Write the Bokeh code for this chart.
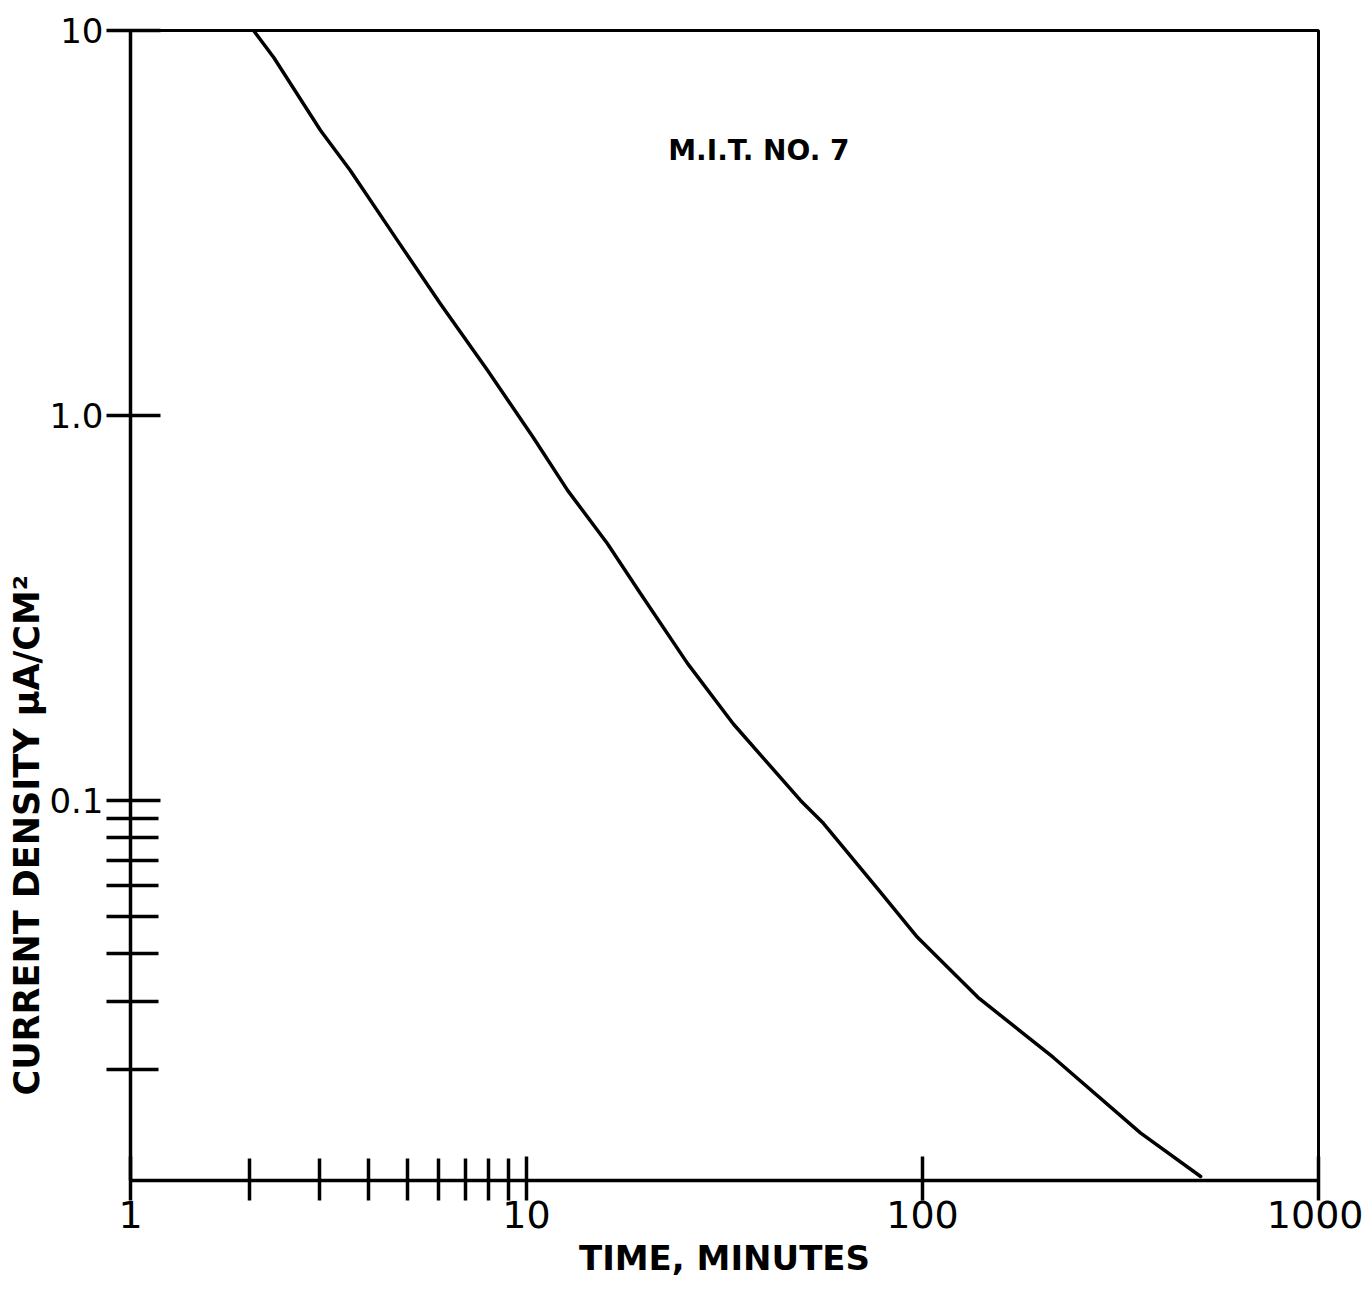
from bokeh.plotting import figure
from bokeh.models import FixedTicker, Label, ColumnDataSource, Title
from bokeh.embed import file_html
from bokeh.resources import INLINE

# ---- data ----
time_min = [2.045, 2.30, 3.02, 3.59, 4.72, 6.06, 7.97, 10.4, 12.7, 16.0, 19.4,
            25.5, 33.3, 49.2, 56.2, 76.9, 97.1, 138, 214, 355, 504]
current_density = [10.0, 8.51, 5.50, 4.33, 2.85, 1.95, 1.31, 0.877, 0.639, 0.465,
                   0.345, 0.227, 0.158, 0.100, 0.0872, 0.0591, 0.0441, 0.0308,
                   0.0215, 0.0137, 0.01055]

x_major = [1, 10, 100, 1000]
x_major_labels = ["1", "10", "100", "1000"]
x_minor = [2, 3, 4, 5, 6, 7, 8, 9]
y_major = [0.1, 1, 10]
y_major_labels = ["0.1", "1.0", "10"]
y_minor = [0.02, 0.03, 0.04, 0.05, 0.06, 0.07, 0.08, 0.09]

title_text = "M.I.T. NO. 7"
x_label = "TIME, MINUTES"
y_label = "CURRENT  DENSITY  \u03bcA/CM\u00b2"

FONT = "DejaVu Sans"

p = figure(x_axis_type="log", y_axis_type="log",
           x_range=(1, 1000), y_range=(0.0103, 10),
           frame_width=1188, frame_height=1150,
           min_border_left=130, min_border_top=30,
           min_border_right=45, min_border_bottom=105,
           output_backend="svg", toolbar_location=None)

p.xgrid.visible = False
p.ygrid.visible = False
p.outline_line_color = "black"
p.outline_line_width = 3
p.outline_line_alpha = 1.0

src = ColumnDataSource(dict(x=time_min, y=current_density))
p.line("x", "y", source=src, line_color="black", line_width=3.5,
       line_join="round", line_cap="round")

# x axis
xa = p.xaxis[0]
xa.ticker = FixedTicker(ticks=x_major, minor_ticks=x_minor)
xa.major_label_overrides = {v: s for v, s in zip(x_major, x_major_labels)}
xa.axis_line_width = 3.5
xa.major_tick_line_width = 3.5
xa.minor_tick_line_width = 3.5
xa.major_tick_in = 24
xa.major_tick_out = 20
xa.minor_tick_in = 22
xa.minor_tick_out = 20
xa.major_label_standoff = 0
xa.major_label_text_font = FONT
xa.major_label_text_font_size = "38px"
xa.major_label_text_color = "black"
xa.axis_label = x_label
xa.axis_label_text_font = FONT
xa.axis_label_text_font_size = "34px"
xa.axis_label_text_font_style = "bold"
xa.axis_label_text_color = "black"
xa.axis_label_standoff = 7

# y axis
ya = p.yaxis[0]
ya.ticker = FixedTicker(ticks=y_major, minor_ticks=y_minor)
ya.major_label_overrides = {v: s for v, s in zip(y_major, y_major_labels)}
ya.axis_line_width = 3.5
ya.major_tick_line_width = 3.5
ya.minor_tick_line_width = 3.5
ya.major_tick_in = 30
ya.major_tick_out = 24
ya.minor_tick_in = 28
ya.minor_tick_out = 24
ya.major_label_standoff = 3
ya.major_label_text_font = FONT
ya.major_label_text_font_size = "34px"
ya.major_label_text_color = "black"

# vertical axis title, placed low on the axis like the original lettering
p.add_layout(Title(text=y_label, align="left", offset=85, standoff=0,
                   text_font=FONT, text_font_size="35px",
                   text_font_style="bold", text_color="black"), "left")

# in-plot title
p.add_layout(Label(x=22.8, y=4.88, text=title_text,
                   text_align="left", text_baseline="alphabetic",
                   text_font=FONT, text_font_size="28px",
                   text_font_style="bold", text_color="black"))

open("out.html", "w").write(file_html(p, INLINE))
